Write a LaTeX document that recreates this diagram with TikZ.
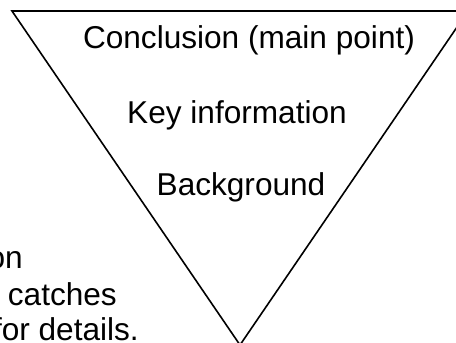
\documentclass[tikz,border=0pt]{standalone}
\usepackage{fontspec}
\setmainfont{Liberation Sans}
\begin{document}
\begin{tikzpicture}[x=1pt,y=-1pt,
  lbl/.style={inner sep=0pt,font=\fontsize{31.6}{38}\selectfont},
  edge/.style={draw=black,line width=1.6pt,line join=miter}]
\useasboundingbox (0,0) rectangle (456,343);
\clip (0,0) rectangle (456,343);
\coordinate (tl) at (12,11);
\coordinate (tr) at (468,11);
\coordinate (ap) at (240,345);
\draw[edge] (tl) -- (tr) -- (ap) -- cycle;
\node[lbl,anchor=base] (concl) at (249,48) {Conclusion (main point)};
\node[lbl,anchor=base] (key) at (237,123) {Key information};
\node[lbl,anchor=base] (bg) at (241,195) {Background};
\node[lbl,anchor=base east] (l1) at (23,268) {on};
\node[lbl,anchor=base east] (l2) at (117,305) {catches};
\node[lbl,anchor=base east] (l3) at (139,340) {for details.};
\end{tikzpicture}
\end{document}
